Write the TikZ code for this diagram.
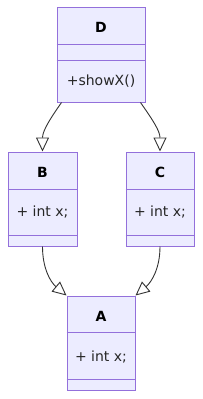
\documentclass[tikz,border=0pt]{standalone}
\usepackage{fontspec}
\setmainfont{DejaVu Sans}
\usetikzlibrary{arrows.meta}
\usetikzlibrary{positioning}
\definecolor{boxfill}{HTML}{ECECFF}
\definecolor{boxline}{HTML}{9370DB}
\definecolor{linkline}{HTML}{333333}
\tikzset{
  classbox/.style={draw=boxline, fill=boxfill, line width=1pt, inner sep=0pt},
  titletxt/.style={font=\fontsize{14}{16}\selectfont\bfseries, text=black},
  membertxt/.style={font=\fontsize{14}{16}\selectfont, text=black!85},
  divider/.style={draw=boxline, line width=1pt},
  inherit/.style={draw=linkline, line width=0.9pt,
    -{Triangle[open, length=14pt, width=13pt, fill=white]}}
}

\begin{document}
\begin{tikzpicture}[x=1pt, y=1pt]
  \useasboundingbox (0,0) rectangle (203,-399);

  % class boxes
  \node[classbox, minimum width=88pt, minimum height=95pt] (D) at (101,-54.5) {};
  \node[classbox, minimum width=69pt, minimum height=94pt] (B) at (42.5,-199) {};
  \node[classbox, minimum width=68pt, minimum height=94pt] (C) at (160,-199) {};
  \node[classbox, minimum width=68pt, minimum height=94pt] (A) at (101,-343) {};

  % compartments
  \draw[divider] ([yshift=-38pt]D.north west) -- ([yshift=-38pt]D.north east);
  \draw[divider] ([yshift=-54pt]D.north west) -- ([yshift=-54pt]D.north east);
  \draw[divider] ([yshift=-38pt]B.north west) -- ([yshift=-38pt]B.north east);
  \draw[divider] ([yshift=11pt]B.south west) -- ([yshift=11pt]B.south east);
  \draw[divider] ([yshift=-38pt]C.north west) -- ([yshift=-38pt]C.north east);
  \draw[divider] ([yshift=11pt]C.south west) -- ([yshift=11pt]C.south east);
  \draw[divider] ([yshift=-37pt]A.north west) -- ([yshift=-37pt]A.north east);
  \draw[divider] ([yshift=11pt]A.south west) -- ([yshift=11pt]A.south east);

  % names and members
  \node[titletxt] (Dname) at (101,-27) {D};
  \node[membertxt] (Dop) at (101,-81) {+showX()};
  \node[titletxt] (Bname) at (42.5,-172) {B};
  \node[membertxt] (Bx) at (42.5,-212) {+ int x;};
  \node[titletxt] (Cname) at (160,-172) {C};
  \node[membertxt] (Cx) at (160,-212) {+ int x;};
  \node[titletxt] (Aname) at (101,-316) {A};
  \node[membertxt] (Ax) at (101,-357) {+ int x;};

  % inheritance
  \draw[inherit] ([xshift=5pt]D.south west) to[out=-125, in=90] (B.north);
  \draw[inherit] ([xshift=-5pt]D.south east) to[out=-55, in=90] (C.north);
  \draw[inherit] (B.south) to[out=-90, in=140] (A.north west);
  \draw[inherit] (C.south) to[out=-90, in=40] (A.north east);

\end{tikzpicture}
\end{document}
